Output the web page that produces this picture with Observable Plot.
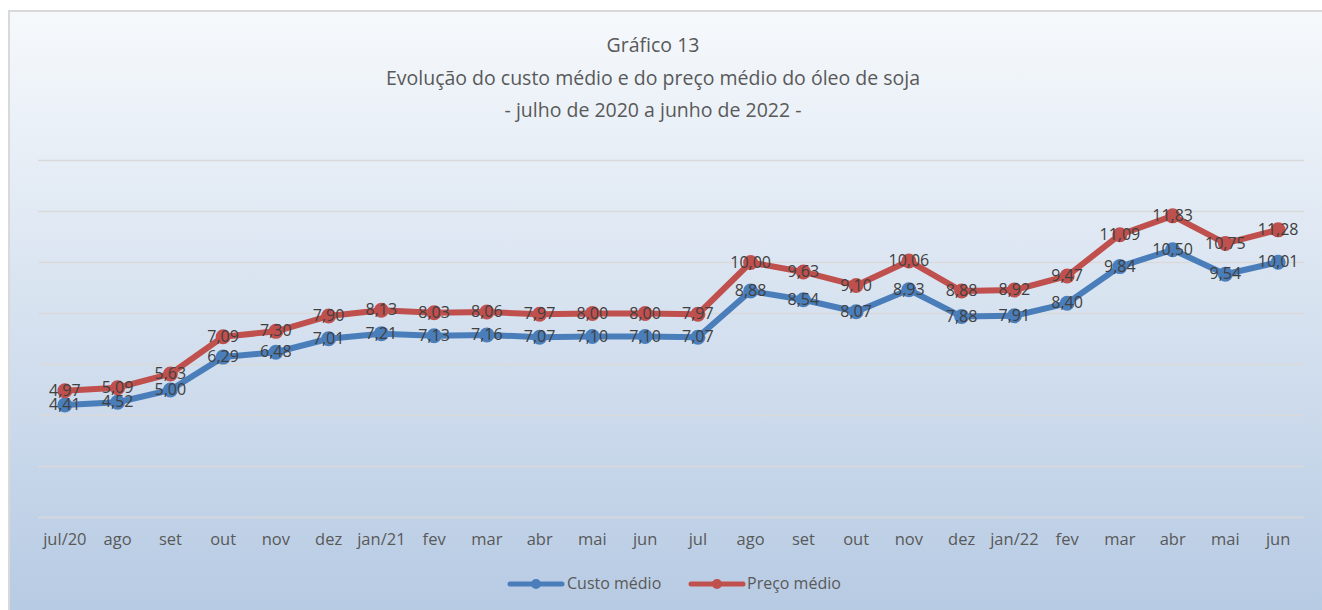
<!DOCTYPE html>
<html><head><meta charset="utf-8">
<script src="https://cdn.jsdelivr.net/npm/d3@7"></script>
<script src="https://cdn.jsdelivr.net/npm/@observablehq/plot@0.6"></script>
<style>
body{margin:0;background:#fff;font-family:"Open Sans","Noto Sans",sans-serif;width:1322px;height:610px;overflow:hidden;position:relative}
#frame{position:absolute;left:8px;top:10px;width:1320px;height:610px;border-left:2px solid #d9d9d9;border-top:2px solid #d9d9d9;background:linear-gradient(#f6f9fc,#b6cae3);box-sizing:border-box}
.t{position:absolute;left:-8px;width:1322px;text-align:center;color:#595959;font-size:19.5px;line-height:24px}
#chart{position:absolute;left:0;top:130px}
#legend{position:absolute;left:0;top:572px;width:1322px;height:24px}
.li{position:absolute;top:0;font-size:16px;color:#595959;line-height:22px}
</style></head><body>
<div id="frame"></div>
<div class="t" style="top:33px">Gráfico 13</div>
<div class="t" style="top:66px">Evolução do custo médio e do preço médio do óleo de soja</div>
<div class="t" style="top:98px">- julho de 2020 a junho de 2022 -</div>
<div id="chart"></div>
<div id="legend"></div>
<script>
const months = ["jul/20","ago","set","out","nov","dez","jan/21","fev","mar","abr","mai","jun","jul","ago","set","out","nov","dez","jan/22","fev","mar","abr","mai","jun"];
const custoMedio = [4.41,4.52,5.00,6.29,6.48,7.01,7.21,7.13,7.16,7.07,7.10,7.10,7.07,8.88,8.54,8.07,8.93,7.88,7.91,8.40,9.84,10.50,9.54,10.01];
const precoMedio = [4.97,5.09,5.63,7.09,7.30,7.90,8.13,8.03,8.06,7.97,8.00,8.00,7.97,10.00,9.63,9.10,10.06,8.88,8.92,9.47,11.09,11.83,10.75,11.28];
const seriesNames = ["Custo médio","Preço médio"];
const seriesColors = ["#4a7ebb","#c0504d"];
const yTicks = [0,2,4,6,8,10,12,14];

const rows = [];
months.forEach((m,i)=>{
  rows.push({i, s:seriesNames[0], v:custoMedio[i]});
  rows.push({i, s:seriesNames[1], v:precoMedio[i]});
});
const fmt = v => v.toFixed(2).replace(".", ",");

const chart = Plot.plot({
  width: 1322, height: 430,
  marginLeft: 38, marginRight: 18, marginTop: 30, marginBottom: 43,
  style: {background: "transparent", fontFamily: '"Open Sans","Noto Sans",sans-serif', overflow: "visible"},
  x: {type: "point", domain: d3.range(months.length), padding: 0.5, round: false, label: null},
  y: {domain: [0, 14], axis: null},
  color: {domain: seriesNames, range: seriesColors},
  marks: [
    Plot.gridY(yTicks, {stroke: "#d9d9d9", strokeOpacity: 1, strokeWidth: 1.6}),
    Plot.axisX({tickSize: 0, tickPadding: 16, fontSize: 16.5, fill: "#595959", tickFormat: i => months[i], label: null}),
    Plot.line(rows, {x: "i", y: "v", z: "s", stroke: "s", strokeWidth: 6, strokeLinejoin: "round", strokeLinecap: "round"}),
    Plot.dot(rows, {x: "i", y: "v", fill: "s", r: 7.5, stroke: null}),
    Plot.text(rows, {x: "i", y: "v", text: d => fmt(d.v), fill: "#404040", fontSize: 16})
  ]
});
document.getElementById("chart").appendChild(chart);

// legend
const leg = document.getElementById("legend");
const items = [{x: 507, tx: 567}, {x: 688, tx: 747}];
items.forEach((it, k) => {
  const sw = document.createElementNS("http://www.w3.org/2000/svg","svg");
  sw.setAttribute("width", 60); sw.setAttribute("height", 24);
  sw.style.position = "absolute"; sw.style.left = it.x + "px"; sw.style.top = "0px";
  sw.innerHTML = `<line x1="3" y1="12" x2="55" y2="12" stroke="${seriesColors[k]}" stroke-width="5" stroke-linecap="round"/><circle cx="29" cy="12" r="5" fill="${seriesColors[k]}"/>`;
  leg.appendChild(sw);
  const t = document.createElement("div");
  t.className = "li"; t.style.left = it.tx + "px"; t.textContent = seriesNames[k];
  leg.appendChild(t);
});
</script>
</body></html>
